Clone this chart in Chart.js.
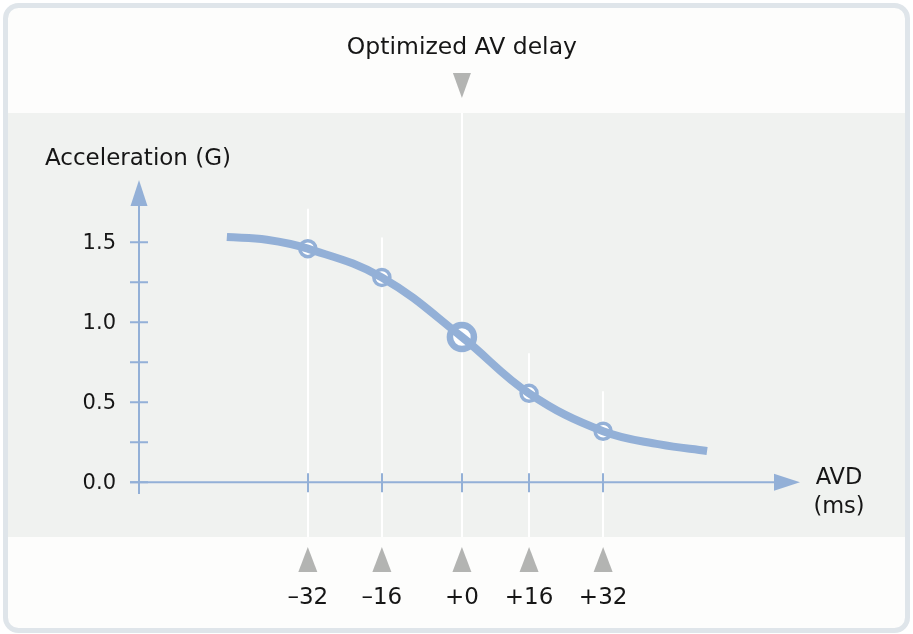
<!DOCTYPE html>
<html>
<head>
<meta charset="utf-8">
<script src="https://cdn.jsdelivr.net/npm/chart.js@4"></script>
<style>
  html, body { margin: 0; padding: 0; background: #ffffff; }
  #wrap { width: 913px; height: 634px; position: relative; }
</style>
</head>
<body>
<div id="wrap"><canvas id="grafico"></canvas></div>
<script>
// datos
const tickLabels = ['\u201332', '\u201316', '+0', '+16', '+32'];
// posición de cada marca sobre el eje AVD (unidades del eje)
const tickPos = [-33.5, -17.4, 0, 14.6, 30.7];
const accelPoints = [1.46, 1.28, 0.908, 0.556, 0.319];
const optimoIndex = 2;

// curva (posición, aceleración)
const curvaPos = [-51.1, -42.4, -33.5, -17.4, 0, 14.6, 30.7, 43.0, 53.3];
const curvaAccel = [1.533, 1.516, 1.46, 1.28, 0.908, 0.556, 0.319, 0.237, 0.196];

// eje y
const yTicks = [0, 0.5, 1.0, 1.5];
const yTickLabels = ['0.0', '0.5', '1.0', '1.5'];
const yMinorTicks = [0.25, 0.75, 1.25];

const tituloSuperior = 'Optimized AV delay';
const tituloY = 'Acceleration (G)';
const tituloX = ['AVD', '(ms)'];

const AZUL = '#93b0d7';
const GRIS_TRI = '#b3b4b2';
const TEXTO = '#161616';
const FUENTE = '"DejaVu Sans", sans-serif';

function triangulo(ctx, x, yPunta, ancho, alto, haciaAbajo) {
    ctx.beginPath();
    if (haciaAbajo) {
        ctx.moveTo(x - ancho / 2, yPunta - alto);
        ctx.lineTo(x + ancho / 2, yPunta - alto);
        ctx.lineTo(x, yPunta);
    } else {
        ctx.moveTo(x - ancho / 2, yPunta + alto);
        ctx.lineTo(x + ancho / 2, yPunta + alto);
        ctx.lineTo(x, yPunta);
    }
    ctx.closePath();
    ctx.fill();
}

const fondoPlugin = {
    id: 'fondo',
    beforeDraw(chart) {
        const ctx = chart.ctx;
        const xs = chart.scales.x;
        const ys = chart.scales.y;
        const W = chart.width, H = chart.height;
        ctx.save();

        // marco redondeado
        ctx.fillStyle = '#fdfdfc';
        ctx.strokeStyle = '#dfe5ea';
        ctx.lineWidth = 5;
        ctx.beginPath();
        ctx.roundRect(5.5, 5.5, W - 11, H - 9, 13);
        ctx.fill();
        ctx.stroke();

        // banda gris
        const bandaTop = 113, bandaBottom = 537;
        ctx.fillStyle = '#f0f2f0';
        ctx.fillRect(8, bandaTop, W - 16, bandaBottom - bandaTop);

        // líneas guía blancas
        ctx.strokeStyle = '#ffffff';
        ctx.lineWidth = 2;
        tickPos.forEach((p, i) => {
            const px = Math.round(xs.getPixelForValue(p));
            const top = i === optimoIndex ? bandaTop : ys.getPixelForValue(accelPoints[i]) - 40;
            ctx.beginPath();
            ctx.moveTo(px, top);
            ctx.lineTo(px, bandaBottom);
            ctx.stroke();
        });

        // ejes
        const x0 = xs.getPixelForValue(xs.min);
        const y0 = ys.getPixelForValue(0);
        const yTop = ys.getPixelForValue(ys.max);
        const xEnd = xs.getPixelForValue(xs.max);
        ctx.strokeStyle = AZUL;
        ctx.fillStyle = AZUL;
        ctx.lineWidth = 2;
        ctx.beginPath();
        ctx.moveTo(x0, ys.getPixelForValue(ys.min));
        ctx.lineTo(x0, yTop + 20);
        ctx.moveTo(x0 - 9, y0);
        ctx.lineTo(xEnd - 20, y0);
        ctx.stroke();
        triangulo(ctx, x0, yTop, 17, 26, false);
        ctx.beginPath();
        ctx.moveTo(xEnd, y0);
        ctx.lineTo(xEnd - 26, y0 - 8.5);
        ctx.lineTo(xEnd - 26, y0 + 8.5);
        ctx.closePath();
        ctx.fill();

        // marcas eje y
        ctx.beginPath();
        yTicks.concat(yMinorTicks).forEach(v => {
            const py = ys.getPixelForValue(v);
            ctx.moveTo(x0 - 9, py);
            ctx.lineTo(x0 + 9, py);
        });
        // marcas eje x
        tickPos.forEach(p => {
            const px = Math.round(xs.getPixelForValue(p));
            ctx.moveTo(px, y0 - 9);
            ctx.lineTo(px, y0 + 10);
        });
        ctx.stroke();

        // textos
        ctx.fillStyle = TEXTO;
        ctx.font = '21px ' + FUENTE;
        ctx.textAlign = 'right';
        ctx.textBaseline = 'middle';
        yTicks.forEach((v, i) => {
            ctx.fillText(yTickLabels[i], x0 - 23, ys.getPixelForValue(v) + 1);
        });

        ctx.font = '23.5px ' + FUENTE;
        ctx.textAlign = 'center';
        ctx.fillText(tituloSuperior, xs.getPixelForValue(tickPos[optimoIndex]), 48);
        ctx.font = '23px ' + FUENTE;
        ctx.textAlign = 'left';
        ctx.fillText(tituloY, 45, 159);
        ctx.font = '22.5px ' + FUENTE;
        ctx.textAlign = 'center';
        ctx.fillText(tituloX[0], 839, 478);
        ctx.fillText(tituloX[1], 839, 507);

        // triángulos grises y etiquetas x
        ctx.font = '23px ' + FUENTE;
        ctx.fillStyle = GRIS_TRI;
        triangulo(ctx, xs.getPixelForValue(tickPos[optimoIndex]), 98, 18, 25, true);
        tickPos.forEach((p, i) => {
            const px = xs.getPixelForValue(p);
            ctx.fillStyle = GRIS_TRI;
            triangulo(ctx, px, 547, 19, 25, false);
            ctx.fillStyle = TEXTO;
            ctx.fillText(tickLabels[i], px, 598);
        });

        ctx.restore();
    }
};

const ctx = document.getElementById('grafico').getContext('2d');
new Chart(ctx, {
    type: 'line',
    data: {
        datasets: [
            {
                data: curvaPos.map((p, i) => ({ x: p, y: curvaAccel[i] })),
                borderColor: AZUL,
                borderWidth: 8,
                borderCapStyle: 'butt',
                borderJoinStyle: 'round',
                tension: 0.4,
                pointRadius: 0,
                fill: false,
                clip: false
            },
            {
                data: tickPos.map((p, i) => ({ x: p, y: accelPoints[i] })),
                showLine: false,
                pointRadius: accelPoints.map((v, i) => i === optimoIndex ? 12 : 8),
                pointBorderWidth: accelPoints.map((v, i) => i === optimoIndex ? 6.5 : 3.5),
                pointBackgroundColor: '#ffffff',
                pointBorderColor: AZUL,
                clip: false
            }
        ]
    },
    options: {
        responsive: true,
        maintainAspectRatio: false,
        animation: false,
        layout: { padding: { left: 139, right: 113, top: 180, bottom: 140 } },
        scales: {
            x: { type: 'linear', display: false, min: -70.2, max: 73.5 },
            y: { type: 'linear', display: false, min: -0.073, max: 1.889 }
        },
        plugins: {
            legend: { display: false },
            tooltip: { enabled: false }
        }
    },
    plugins: [fondoPlugin]
});
</script>
</body>
</html>
